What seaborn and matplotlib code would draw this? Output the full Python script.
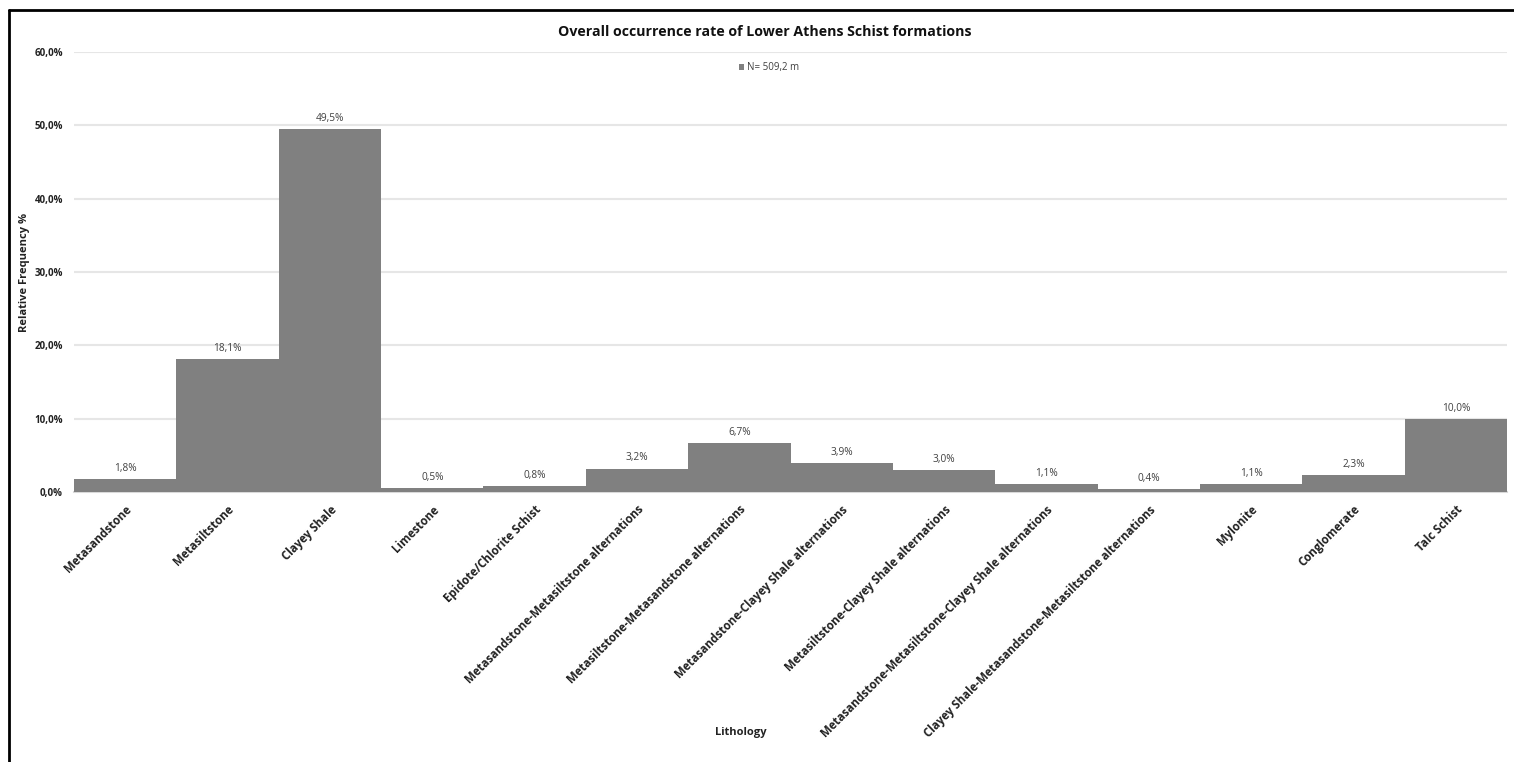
import matplotlib
matplotlib.use("Agg")
import matplotlib.pyplot as plt
from matplotlib.lines import Line2D
from matplotlib.ticker import FuncFormatter, MultipleLocator
import seaborn as sns
import pandas as pd

lithologies = [
    "Metasandstone",
    "Metasiltstone",
    "Clayey Shale",
    "Limestone",
    "Epidote/Chlorite Schist",
    "Metasandstone-Metasiltstone alternations",
    "Metasiltstone-Metasandstone alternations",
    "Metasandstone-Clayey Shale alternations",
    "Metasiltstone-Clayey Shale alternations",
    "Metasandstone-Metasiltstone-Clayey Shale alternations",
    "Clayey Shale-Metasandstone-Metasiltstone alternations",
    "Mylonite",
    "Conglomerate",
    "Talc Schist",
]
frequency_pct = [1.8, 18.1, 49.5, 0.5, 0.8, 3.2, 6.7, 3.9, 3.0, 1.1, 0.4, 1.1, 2.3, 10.0]
series_name = "N= 509,2 m"

df = pd.DataFrame({"Lithology": lithologies, "Frequency": frequency_pct, "Series": series_name})

sns.set_theme(style="white")
plt.rcParams["font.family"] = ["Open Sans", "DejaVu Sans"]

fig = plt.figure(figsize=(15.14, 7.62), dpi=100)
ax = fig.add_axes([74 / 1514, 1 - 492 / 762, (1507 - 74) / 1514, (492 - 52) / 762])

sns.barplot(data=df, x="Lithology", y="Frequency", hue="Series", palette=["#808080"],
            width=1.0, dodge=False, ax=ax, zorder=3, linewidth=0, saturation=1)

ax.set_ylim(0, 60)
ax.set_xlim(-0.5, len(lithologies) - 0.5)
ax.yaxis.set_major_locator(MultipleLocator(10))
ax.yaxis.set_major_formatter(FuncFormatter(lambda v, p: f"{v:.1f}%".replace(".", ",")))
ax.grid(axis="y", color="#e6e6e6", linewidth=1.5, zorder=0)
ax.grid(axis="x", visible=False)
for s in ["top", "right", "left"]:
    ax.spines[s].set_visible(False)
ax.spines["bottom"].set_color("#d9d9d9")
ax.spines["bottom"].set_linewidth(1.5)
ax.tick_params(axis="both", length=0)

for lbl in ax.get_yticklabels():
    lbl.set_fontsize(7)
    lbl.set_fontweight("bold")
    lbl.set_color("#222222")
ax.tick_params(axis="y", pad=8)

ax.set_xticks(range(len(lithologies)))
ax.set_xticklabels(lithologies, rotation=45, ha="right", rotation_mode="anchor",
                   fontsize=8.3, fontweight="bold", color="#222222")
ax.tick_params(axis="x", pad=8)

# value labels above each bar
for i, v in enumerate(frequency_pct):
    ax.text(i, v + 0.7, f"{v:.1f}%".replace(".", ","), ha="center", va="bottom",
            fontsize=7.3, color="#404040")

ax.set_xlabel("")
ax.set_ylabel("Relative Frequency %", fontsize=8, fontweight="bold", color="#222222")
ax.yaxis.set_label_coords(-0.0307, 0.5)

leg = ax.legend(loc="upper center", bbox_to_anchor=(0.485, 0.997), frameon=False,
                fontsize=7, handlelength=0.6, handleheight=0.6, handletextpad=0.3)
for t in leg.get_texts():
    t.set_color("#404040")

fig.text(765 / 1514, 1 - 32 / 762, "Overall occurrence rate of Lower Athens Schist formations",
         ha="center", va="center", fontsize=10.2, fontweight="bold", color="#111111")
fig.text(741 / 1514, 1 - 733 / 762, "Lithology", ha="center", va="center",
         fontsize=8, fontweight="bold", color="#222222")

# outer frame on the top and left edges
fig.add_artist(Line2D([9 / 1514, 1.0], [1 - 10 / 762, 1 - 10 / 762], transform=fig.transFigure,
                      color="black", linewidth=2))
fig.add_artist(Line2D([9 / 1514, 9 / 1514], [0, 1 - 10 / 762], transform=fig.transFigure,
                      color="black", linewidth=2))

fig.savefig("out.png", dpi=100)
